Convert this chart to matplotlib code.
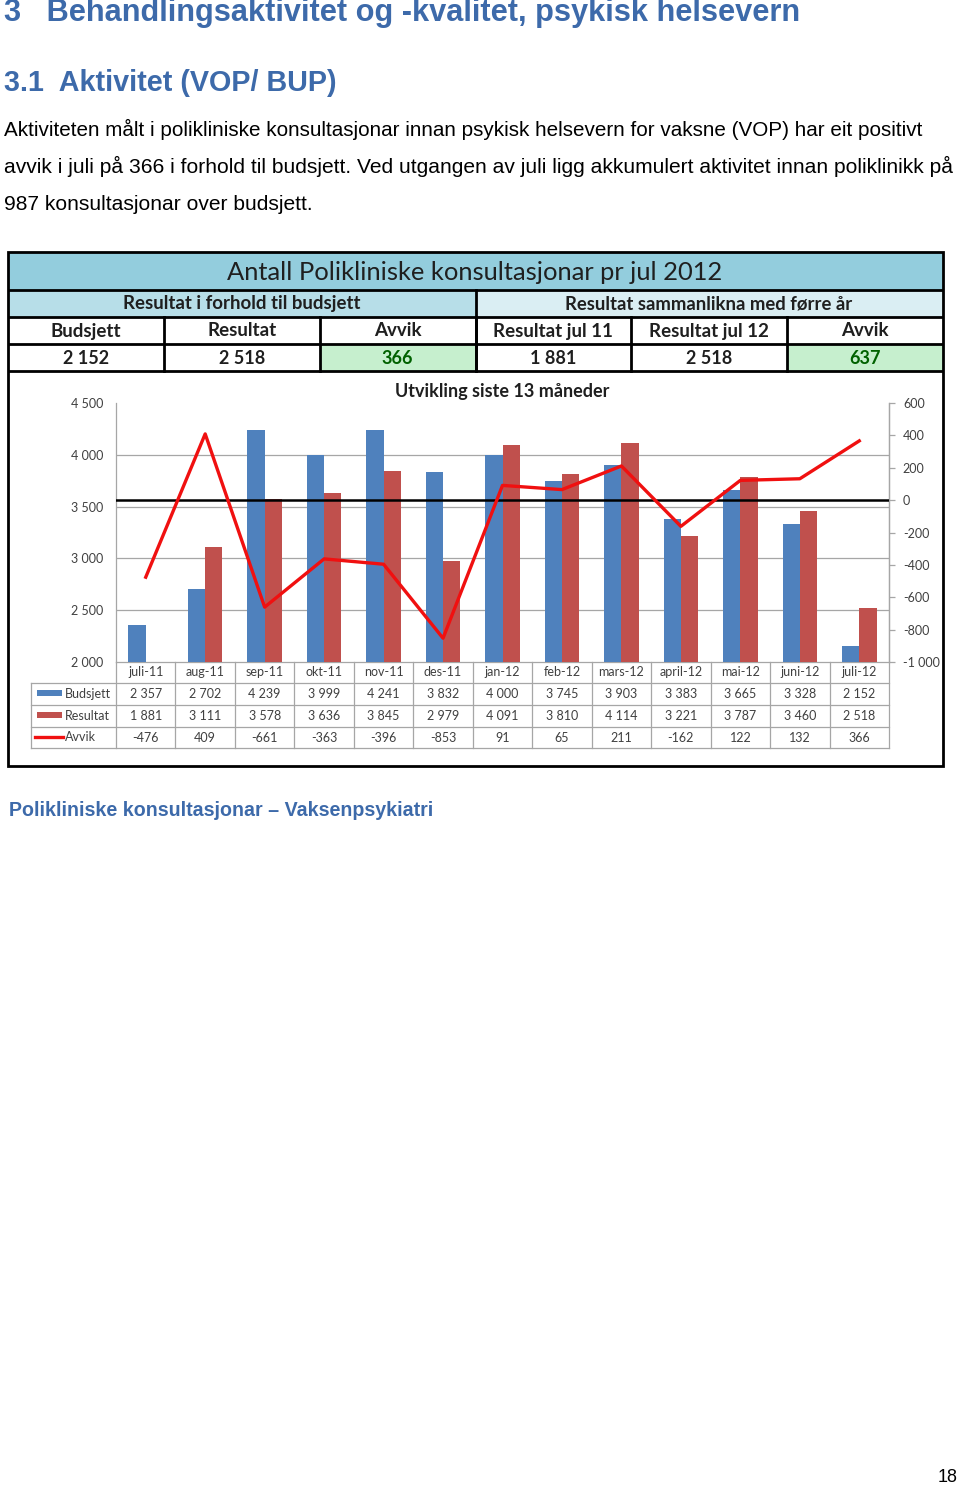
import matplotlib
matplotlib.use("Agg")
import matplotlib.pyplot as plt
import numpy as np
from matplotlib import font_manager

# ---------------- data ----------------
months = ["juli-11", "aug-11", "sep-11", "okt-11", "nov-11", "des-11", "jan-12",
          "feb-12", "mars-12", "april-12", "mai-12", "juni-12", "juli-12"]
budsjett = [2357, 2702, 4239, 3999, 4241, 3832, 4000, 3745, 3903, 3383, 3665, 3328, 2152]
resultat = [1881, 3111, 3578, 3636, 3845, 2979, 4091, 3810, 4114, 3221, 3787, 3460, 2518]
avvik = [-476, 409, -661, -363, -396, -853, 91, 65, 211, -162, 122, 132, 366]

left_ticks = [2000, 2500, 3000, 3500, 4000, 4500]
left_ticklabels = ["2 000", "2 500", "3 000", "3 500", "4 000", "4 500"]
right_ticks = [-1000, -800, -600, -400, -200, 0, 200, 400, 600]
right_ticklabels = ["-1 000", "-800", "-600", "-400", "-200", "0", "200", "400", "600"]

head_cols = ["Budsjett", "Resultat", "Avvik", "Resultat jul 11", "Resultat jul 12", "Avvik"]
head_vals = ["2 152", "2 518", "366", "1 881", "2 518", "637"]

series_names = ["Budsjett", "Resultat", "Avvik"]

# ---------------- fonts ----------------
avail = {f.name for f in font_manager.fontManager.ttflist}
BODY = "Liberation Sans Narrow" if "Liberation Sans Narrow" in avail else "Liberation Sans"
CHART = "Lato" if "Lato" in avail else "DejaVu Sans"

BLUE_HEAD = "#3D6AAA"
BAR_BLUE = "#4F81BD"
BAR_RED = "#C0504D"
LINE_RED = "#F01010"
GRID = "#A6A6A6"
TXT = "#404040"

W, H = 960, 1486
fig = plt.figure(figsize=(W / 100, H / 100), dpi=100)
fig.patch.set_facecolor("white")

ov = fig.add_axes([0, 0, 1, 1])
ov.set_xlim(0, W)
ov.set_ylim(H, 0)
ov.axis("off")

renderer = fig.canvas.get_renderer()


def fit(x, y, s, width, ha="left", va="center", **kw):
    t = ov.text(x, y, s, fontsize=10, ha=ha, va=va, **kw)
    bb = t.get_window_extent(renderer)
    t.set_fontsize(10 * width / bb.width)
    return t


def fmt(v):
    s = f"{abs(v):,}".replace(",", " ")
    return ("-" if v < 0 else "") + s


# ---------------- page text ----------------
fit(4, 13, "3   Behandlingsaktivitet og -kvalitet, psykisk helsevern", 799,
    color=BLUE_HEAD, family=BODY, weight="bold")
fit(4, 83, "3.1  Aktivitet (VOP/ BUP)", 334, color=BLUE_HEAD, family=BODY, weight="bold")
t1 = fit(4, 129, "Aktiviteten målt i polikliniske konsultasjonar innan psykisk helsevern for vaksne (VOP) har eit positivt",
         921, color="black", family=BODY)
t2 = fit(4, 166, "avvik i juli på 366 i forhold til budsjett. Ved utgangen av juli ligg akkumulert aktivitet innan poliklinikk på",
         954, color="black", family=BODY)
ov.text(4, 204, "987 konsultasjonar over budsjett.", fontsize=t2.get_fontsize(), family=BODY,
        color="black", ha="left", va="center")
fit(9, 811, "Polikliniske konsultasjonar – Vaksenpsykiatri", 424, color=BLUE_HEAD,
    family=BODY, weight="bold")
ov.text(958, 1478, "18", fontsize=13, family=BODY, ha="right", va="center", color="black")

# ---------------- header table ----------------
L, R = 8, 943
cols = np.linspace(L, R, 7)
ov.add_patch(plt.Rectangle((L, 252), R - L, 38, facecolor="#93CDDD", edgecolor="none"))
ov.add_patch(plt.Rectangle((L, 290), cols[3] - L, 27, facecolor="#B7DEE8", edgecolor="none"))
ov.add_patch(plt.Rectangle((cols[3], 290), R - cols[3], 27, facecolor="#DAEEF3", edgecolor="none"))
for i in (2, 5):
    ov.add_patch(plt.Rectangle((cols[i], 344), cols[i + 1] - cols[i], 27,
                               facecolor="#C6EFCE", edgecolor="none"))

fit(475, 272, "Antall Polikliniske konsultasjonar pr jul 2012", 495, ha="center",
    family=CHART, color="#1F1F1F")
fit(242, 304, "Resultat i forhold til budsjett", 238, ha="center", family=CHART,
    weight="bold", color="#1F1F1F")
fit(709, 304, "Resultat sammanlikna med førre år", 288, ha="center", family=CHART,
    weight="bold", color="#1F1F1F")
for i, (c, v) in enumerate(zip(head_cols, head_vals)):
    cx = (cols[i] + cols[i + 1]) / 2
    ov.text(cx, 331, c, fontsize=13.5, family=CHART, weight="bold", ha="center",
            va="center", color="#1F1F1F")
    col = "#006100" if i in (2, 5) else "#1F1F1F"
    ov.text(cx, 358, v, fontsize=13, family=CHART, weight="bold", ha="center",
            va="center", color=col)

lw_k = 2.0
for y in (290, 317, 344, 371):
    ov.plot([L, R], [y, y], color="black", lw=lw_k, solid_capstyle="butt")
ov.plot([cols[3], cols[3]], [290, 371], color="black", lw=lw_k)
for c in cols[1:-1]:
    ov.plot([c, c], [317, 371], color="black", lw=lw_k)
# outer box
ov.add_patch(plt.Rectangle((L, 252), R - L, 766 - 252, facecolor="none",
                           edgecolor="black", lw=lw_k))

# ---------------- chart ----------------
x0, x1 = 116, 889
ytop, ybot = 403, 662
ax = fig.add_axes([x0 / W, 1 - ybot / H, (x1 - x0) / W, (ybot - ytop) / H])
ax.patch.set_alpha(0)
x = np.arange(len(months))
bw = 0.29
ax.bar(x - bw / 2, budsjett, bw, color=BAR_BLUE, zorder=3)
ax.bar(x + bw / 2, resultat, bw, color=BAR_RED, zorder=3)
ax.set_xlim(-0.5, len(months) - 0.5)
ax.set_ylim(left_ticks[0], left_ticks[-1])
ax.set_yticks(left_ticks)
ax.set_yticklabels(left_ticklabels, family=CHART, fontsize=9, color=TXT)
ax.set_xticks([])
ax.tick_params(axis="y", length=0, pad=9)
for yv in left_ticks[1:-1]:
    ax.axhline(yv, color=GRID, lw=0.9, zorder=1)
ax.spines["top"].set_visible(False)
for s in ("left", "right", "bottom"):
    ax.spines[s].set_color(GRID)
    ax.spines[s].set_linewidth(0.9)

ax2 = ax.twinx()
ax2.set_ylim(right_ticks[0], right_ticks[-1])
ax2.set_yticks(right_ticks)
ax2.set_yticklabels(right_ticklabels, family=CHART, fontsize=9, color=TXT)
ax2.tick_params(axis="y", length=4, width=0.9, color=GRID, pad=6)
ax2.axhline(0, color="black", lw=1.8, zorder=4)
ax2.plot(x, avvik, color=LINE_RED, lw=2.4, zorder=5)
ax2.spines["top"].set_visible(False)
ax2.spines["left"].set_visible(False)
ax2.spines["bottom"].set_visible(False)
ax2.spines["right"].set_color(GRID)
ax2.spines["right"].set_linewidth(0.9)

ov.text(502, 392, "Utvikling siste 13 måneder", fontsize=13, family=CHART, weight="bold",
        ha="center", va="center", color="#1F1F1F")

# ---------------- data table ----------------
cw = (x1 - x0) / len(months)
rows_y = [662, 683, 705, 727, 748]
tl = 31
for yv in rows_y[1:]:
    ov.plot([tl, x1], [yv, yv], color=GRID, lw=0.9)
for i in range(len(months) + 1):
    xv = x0 + i * cw
    ov.plot([xv, xv], [662, 748], color=GRID, lw=0.9)
ov.plot([tl, tl], [683, 748], color=GRID, lw=0.9)

table_rows = [months, [fmt(v) for v in budsjett], [fmt(v) for v in resultat],
              [fmt(v) for v in avvik]]
for r, vals in enumerate(table_rows):
    yc = (rows_y[r] + rows_y[r + 1]) / 2
    for i, s in enumerate(vals):
        ov.text(x0 + (i + 0.5) * cw, yc, s, fontsize=9, family=CHART, ha="center",
                va="center", color=TXT)

# legend column
ov.add_patch(plt.Rectangle((37, 690), 25, 6, facecolor=BAR_BLUE, edgecolor="none"))
ov.add_patch(plt.Rectangle((37, 712), 25, 6, facecolor=BAR_RED, edgecolor="none"))
ov.plot([35, 63], [737, 737], color=LINE_RED, lw=2.4)
for name, yc in zip(series_names, [694, 716, 737]):
    ov.text(65, yc, name, fontsize=9, family=CHART, ha="left", va="center", color=TXT)

fig.savefig("out.png", dpi=100)
